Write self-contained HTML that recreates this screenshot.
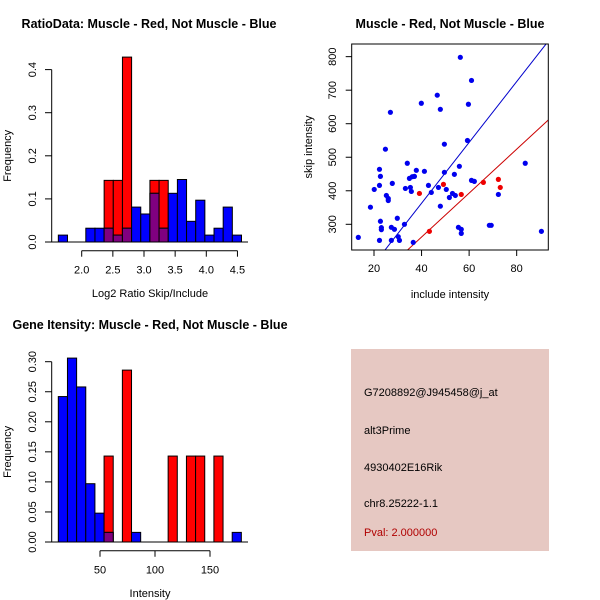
<!DOCTYPE html>
<html><head><meta charset="utf-8"><style>
html,body{margin:0;padding:0;background:#fff}
svg{display:block;font-family:"Liberation Sans",sans-serif}
</style></head><body>
<svg id="s" width="600" height="600" viewBox="0 0 600 600">
<rect width="600" height="600" fill="#fff"/>
<g>
<rect x="351" y="349" width="198" height="202" fill="#e6c8c2"/>
<text x="364" y="396" font-size="11">G7208892@J945458@j_at</text>
<text x="364" y="434" font-size="11">alt3Prime</text>
<text x="364" y="471" font-size="11">4930402E16Rik</text>
<text x="364" y="507" font-size="11">chr8.25222-1.1</text>
<text x="364" y="536" font-size="11" fill="#b00000">Pval: 2.000000</text>
</g>
</svg>
<script>
// Ratio histogram data
const ratioBinStart = 1.625, ratioBinWidth = 0.147;
const ratioBlue = [0.016,0,0,0.032,0.032,0.032,0.016,0.032,0.081,0.065,0.113,0.032,0.113,0.145,0.048,0.097,0.016,0.032,0.081,0.016];
const ratioRed  = [0,0,0,0,0,0.143,0.143,0.429,0,0,0.143,0.143,0,0,0,0,0,0,0,0];
const ratioXTicks = [2.0,2.5,3.0,3.5,4.0,4.5];
const ratioYTicks = [0.0,0.1,0.2,0.3,0.4];
// Intensity histogram data
const intBinStart = 12.1, intBinWidth = 8.32;
const intBlue = [0.242,0.306,0.258,0.097,0.048,0.016,0,0,0.016,0,0,0,0,0,0,0,0,0,0,0.016];
const intRed  = [0,0,0,0,0,0.143,0,0.286,0,0,0,0,0.143,0,0.143,0.143,0,0.143,0,0];
const intXTicks = [50,100,150];
const intYTicks = ["0.00","0.05","0.10","0.15","0.20","0.25","0.30"];
// Scatter data
const blueX = [13.4,18.5,20.1,22.3,22.7,22.3,22.7,23.1,23.1,22.3,24.8,25.2,26.0,26.0,26.9,27.7,27.3,28.6,27.3,29.8,30.2,30.7,32.8,33.2,34.0,34.9,35.3,35.7,36.1,36.5,37.0,37.8,39.9,41.2,42.9,44.1,46.6,47.1,47.9,47.9,49.6,49.6,50.4,51.7,53.0,53.8,54.2,55.5,55.9,56.3,56.7,56.7,59.3,59.7,61.0,61.0,62.2,72.3,68.5,69.3,83.6,90.4];
const blueY = [261,351,404,464,443,416,309,290,284,252,524,386,377,371,634,422,291,285,252,318,263,252,300,407,482,437,410,398,442,246,443,461,661,458,416,395,685,410,643,354,539,455,404,380,392,449,386,291,473,798,285,273,550,658,729,431,428,389,297,297,482,279];
const redX = [39.1,49.2,56.7,43.3,66.0,72.3,73.1];
const redY = [392,419,389,279,425,434,410];
const blueSlope = 9.07, redSlope = 6.55;
const scXTicks = [20,40,60,80];
const scYTicks = [300,400,500,600,700,800];

const NS="http://www.w3.org/2000/svg", svg=document.getElementById('s');
function mk(tag,attrs,parent){const e=document.createElementNS(NS,tag);for(const k in attrs)e.setAttribute(k,attrs[k]);(parent||svg).appendChild(e);return e;}
function txt(x,y,s,size,parent,extra){const t=mk('text',Object.assign({x:x,y:y,'font-size':size,'text-anchor':'middle'},extra||{}),parent);t.textContent=s;return t;}

function hist(opts){
  const g=mk('g',{});
  
  
  const X=v=>opts.x0px+(v-opts.x0v)*opts.xs, Y=v=>opts.y0px-v*opts.ys;
  const n=opts.blue.length;
  for(let i=0;i<n;i++){
    const a=X(opts.bs+i*opts.bw), b=X(opts.bs+(i+1)*opts.bw);
    const r=opts.red[i], bl=opts.blue[i], m=Math.min(r,bl);
    if(r>0){const e=mk('rect',{x:a,y:Y(r),width:b-a,height:Y(0)-Y(r),fill:'#ff0000',stroke:'#000','stroke-width':1},g);
      }
    if(bl>0){const e=mk('rect',{x:a,y:Y(bl),width:b-a,height:Y(0)-Y(bl),fill:'#0000ff',stroke:'#000','stroke-width':1},g);
      }
    if(m>0){const e=mk('rect',{x:a,y:Y(m),width:b-a,height:Y(0)-Y(m),fill:'#800080',stroke:'#000','stroke-width':1},g);
      }
  }
  mk('line',{x1:48,x2:248,y1:Y(0),y2:Y(0),stroke:'#000'},g);
  // y axis
  const ya=mk('g',{},g);
  const yt=opts.yticks.map(Number);
  mk('line',{x1:51.7,x2:51.7,y1:Y(yt[0]),y2:Y(yt[yt.length-1]),stroke:'#000'},ya);
  opts.yticks.forEach(t=>{const y=Y(Number(t));mk('line',{x1:45,x2:51.7,y1:y,y2:y,stroke:'#000'},ya);
    txt(0,0,String(t),11,ya,{transform:`translate(36,${y}) rotate(-90)`});});
  const xa=mk('g',{},g);
  const ay=opts.y0px+8.7;
  mk('line',{x1:X(opts.xticks[0]),x2:X(opts.xticks[opts.xticks.length-1]),y1:ay,y2:ay,stroke:'#000'},xa);
  opts.xticks.forEach(t=>{const x=X(t);mk('line',{x1:x,x2:x,y1:ay,y2:ay+6,stroke:'#000'},xa);
    txt(x,ay+23,opts.fmt(t),11,xa);});
  const tt=txt(opts.tx,opts.ty,opts.title,12.5,g,{'font-weight':'bold'});
  const xl=txt(150,opts.y0px+55,opts.xlab,11,g);
  const yl=txt(0,0,'Frequency',11,g,{transform:`translate(11,${(Y(0)+Y(yt[yt.length-1]))/2}) rotate(-90)`});
}
hist({name:'ratio-histogram',blue:ratioBlue,red:ratioRed,bs:ratioBinStart,bw:ratioBinWidth,x0v:2,x0px:81.7,xs:62.3,y0px:242,ys:431,
  yticks:ratioYTicks.map(v=>v.toFixed(1)),xticks:ratioXTicks,fmt:t=>t.toFixed(1),title:'RatioData: Muscle - Red, Not Muscle - Blue',tx:149,ty:28,xlab:'Log2 Ratio Skip/Include'});
hist({name:'intensity-histogram',blue:intBlue,red:intRed,bs:intBinStart,bw:intBinWidth,x0v:50,x0px:100,xs:1.1,y0px:542,ys:601,
  yticks:intYTicks,xticks:intXTicks,fmt:t=>String(t),title:'Gene Itensity: Muscle - Red, Not Muscle - Blue',tx:150,ty:329,xlab:'Intensity'});

// scatter
(function(){
  const g=mk('g',{});
  
  
  const L=351.7,R=548.3,T=44,B=250;
  const X=v=>374+(v-20)*2.378, Y=v=>224.3-(v-300)*0.3353;
  const Xi=p=>20+(p-374)/2.378;
  const cp=mk('clipPath',{id:'scclip'},g);mk('rect',{x:L,y:T,width:R-L,height:B-T},cp);
  [[blueSlope,'#0000cc','blue-fit-line'],[redSlope,'#cc0000','red-fit-line']].forEach(([s,c,n])=>{
    const e=mk('line',{x1:X(Xi(L)),y1:Y(s*Xi(L)),x2:X(Xi(R)),y2:Y(s*Xi(R)),stroke:c,'stroke-width':1,'clip-path':'url(#scclip)'},g);
    });
  blueX.forEach((x,i)=>{const e=mk('circle',{cx:X(x),cy:Y(blueY[i]),r:2.6,fill:'#0000ee'},g);
    });
  redX.forEach((x,i)=>{const e=mk('circle',{cx:X(x),cy:Y(redY[i]),r:2.6,fill:'#ee0000'},g);
    });
  mk('rect',{x:L,y:T,width:R-L,height:B-T,fill:'none',stroke:'#000'},g);
  const xa=mk('g',{},g);
  scXTicks.forEach(t=>{const x=X(t);mk('line',{x1:x,x2:x,y1:B,y2:B+6,stroke:'#000'},xa);txt(x,B+22,String(t),11,xa);});
  const ya=mk('g',{},g);
  scYTicks.forEach(t=>{const y=Y(t);mk('line',{x1:L-6,x2:L,y1:y,y2:y,stroke:'#000'},ya);
    txt(0,0,String(t),11,ya,{transform:`translate(336,${y}) rotate(-90)`});});
  const tt=txt(450,28,'Muscle - Red, Not Muscle - Blue',12.5,g,{'font-weight':'bold'});
  const xl=txt(450,298,'include intensity',11,g);
  const yl=txt(0,0,'skip intensity',11,g,{transform:`translate(312,147) rotate(-90)`});
})();
</script>
</body></html>
